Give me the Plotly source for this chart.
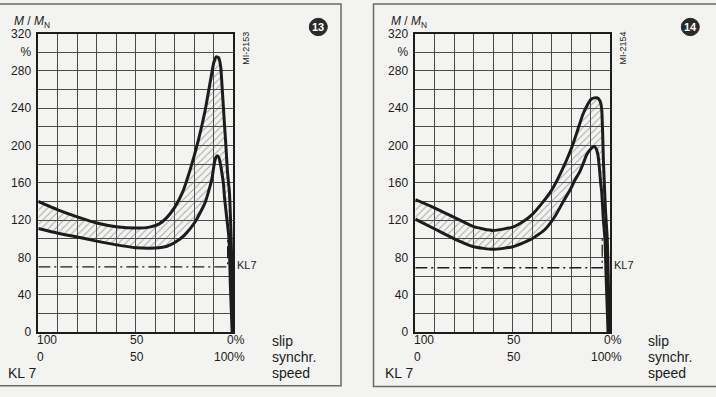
import plotly.graph_objects as go

# ---------------- data ----------------
# Panel 13: speed (% of synchronous) vs torque M/MN (%)
p13_upper_x = [0, 10, 20, 30, 40, 50, 57, 62, 66, 70, 74, 78, 82, 85.5, 88.5, 90, 91.2, 92.5, 93.5, 94.5, 95.4, 96.2, 97.0, 98.0, 98.9, 99.5, 100]
p13_upper_y = [140, 131, 123.5, 117, 113, 111.5, 112.5, 116, 123, 134, 150, 175, 205, 237, 272, 289, 295, 294, 285, 255, 225, 200, 172, 150, 100, 50, 0]
p13_lower_x = [0, 10, 20, 30, 40, 50, 57, 62, 66, 70, 75, 80.3, 85.5, 88.9, 90.2, 91.0, 91.8, 92.6, 93.4, 94.2, 94.9, 95.6, 96.5, 97.8, 98.5, 99.4]
p13_lower_y = [111, 106, 102, 97.5, 93.5, 90.5, 90, 90.5, 92, 96, 104, 117.7, 138.5, 163, 180, 187, 189, 187, 180, 170, 160, 142, 125, 100, 50, 0]
p13_kl7_x = [0, 97.1, 97.1]
p13_kl7_y = [70, 70, 100]

# Panel 14
p14_upper_x = [0, 10, 20, 30, 40, 50, 55, 60, 65, 70, 75, 80, 83, 86, 88.5, 90, 92, 93.5, 94.8, 95.7, 96.2, 96.6, 97.1, 97.7, 98.6, 99.2, 99.6]
p14_upper_y = [142, 133, 123, 113, 109, 112.5, 118, 126, 138, 152, 172, 196, 214, 233, 244, 249, 251, 251, 248, 240, 215, 185, 159, 130, 100, 50, 0]
p14_lower_x = [0, 10, 20, 30, 40, 50, 60, 66.6, 72, 76, 79.4, 82, 84.5, 86.5, 88, 90, 91.8, 92.8, 93.8, 94.6, 95.2, 95.7, 96.6, 97.4, 98.0, 99.0]
p14_lower_y = [121, 110.5, 100, 91.5, 88.7, 91.5, 100, 110, 125, 140, 152, 163, 172, 182, 190, 196, 199, 197, 190, 175, 160, 151, 120, 100, 60, 0]
p14_kl7_x = [0, 96.0, 96.0]
p14_kl7_y = [69, 69, 100]

y_tick_vals = [0, 40, 80, 120, 160, 200, 240, 280, 300, 320]
y_tick_text = ["0", "40", "80", "120", "160", "200", "240", "280", "%", "320"]
x_row1 = ["100", "50", "0%"]
x_row2 = ["0", "50", "100%"]
x_label_pos = [0, 50, 100]
side_labels = ["slip", "synchr.", "speed"]
panel_numbers = ["13", "14"]
drawing_ids = ["MI-2153", "MI-2154"]

# ---------------- figure ----------------
W, H = 716, 397
INK = "#1c1c1c"
GRID = "#4a4a4a"
BG = "#f3f3f1"
FONT = "Liberation Sans Narrow, Liberation Sans, Arial, sans-serif"
FONT2 = "Liberation Sans, Arial, sans-serif"

def px(xp):
    return xp / W

def py(yp):
    return 1 - yp / H

fig = go.Figure()

panels = [
    dict(ux=p13_upper_x, uy=p13_upper_y, lx=p13_lower_x, ly=p13_lower_y, kx=p13_kl7_x, ky=p13_kl7_y,
         xa="x", ya="y", dom=[px(38.3), px(233.3)]),
    dict(ux=p14_upper_x, uy=p14_upper_y, lx=p14_lower_x, ly=p14_lower_y, kx=p14_kl7_x, ky=p14_kl7_y,
         xa="x2", ya="y2", dom=[px(415.3), px(610.0)]),
]

ydom = [py(337), py(27.5)]

for i, p in enumerate(panels):
    poly_x = list(p["ux"]) + list(reversed(p["lx"]))
    poly_y = list(p["uy"]) + list(reversed(p["ly"]))
    fig.add_trace(go.Scatter(
        x=poly_x, y=poly_y, xaxis=p["xa"], yaxis=p["ya"], mode="none",
        fill="toself", fillcolor="rgba(0,0,0,0)",
        fillpattern=dict(shape="/", fgcolor="#5a5a5a", bgcolor="rgba(0,0,0,0)", size=5, solidity=0.2),
        hoverinfo="skip", showlegend=False))
    fig.add_trace(go.Scatter(
        x=p["kx"], y=p["ky"], xaxis=p["xa"], yaxis=p["ya"], mode="lines",
        line=dict(color=INK, width=1.3, dash="12px,4px,2px,4px"),
        showlegend=False, hoverinfo="skip"))
    for cx, cy in ((p["ux"], p["uy"]), (p["lx"], p["ly"])):
        fig.add_trace(go.Scatter(
            x=cx, y=cy, xaxis=p["xa"], yaxis=p["ya"], mode="lines",
            line=dict(color=INK, width=3, shape="spline", smoothing=0.5),
            showlegend=False, hoverinfo="skip"))

axis_common_x = dict(range=[0, 100], dtick=10, tick0=0, showgrid=True, gridcolor=GRID, gridwidth=1,
                     showticklabels=False, ticks="", zeroline=False, showline=True, linecolor=INK,
                     linewidth=1.5, mirror=True, fixedrange=True)
axis_common_y = dict(range=[0, 320], tickmode="array", tickvals=y_tick_vals, ticktext=y_tick_text,
                     showgrid=True, gridcolor=GRID, gridwidth=1, ticks="", zeroline=False,
                     showline=True, linecolor=INK, linewidth=1.5, mirror=True,
                     minor=dict(dtick=20, tick0=0, showgrid=True, gridcolor=GRID, gridwidth=1),
                     tickfont=dict(family=FONT, size=12, color=INK), ticklabelstandoff=3, fixedrange=True)

fig.update_layout(
    width=W, height=H, margin=dict(l=0, r=0, t=0, b=0), autosize=False,
    paper_bgcolor=BG, plot_bgcolor=BG,
    xaxis=dict(domain=panels[0]["dom"], anchor="y", **axis_common_x),
    yaxis=dict(domain=ydom, anchor="x", **axis_common_y),
    xaxis2=dict(domain=panels[1]["dom"], anchor="y2", **axis_common_x),
    yaxis2=dict(domain=ydom, anchor="x2", **axis_common_y),
)

ann = []
shapes = []
txt = dict(family=FONT, color=INK)

for i, p in enumerate(panels):
    xr = "x" if i == 0 else "x2"
    yr = "y" if i == 0 else "y2"
    # x tick labels (two rows)
    anchors = ["left", "center", "right"]
    shifts = [-3, 1, 14]
    for k, xv in enumerate(x_label_pos):
        ann.append(dict(x=xv, y=py(345.5), xref=xr, yref="paper", text=x_row1[k], showarrow=False,
                        xanchor=anchors[k], yanchor="middle", xshift=shifts[k],
                        font=dict(size=12, **txt)))
        ann.append(dict(x=xv, y=py(362.5), xref=xr, yref="paper", text=x_row2[k], showarrow=False,
                        xanchor=anchors[k], yanchor="middle", xshift=shifts[k],
                        font=dict(size=12, **txt)))
    # KL7 label
    ann.append(dict(x=100, y=72, xref=xr, yref=yr, text="KL7", showarrow=False,
                    xanchor="left", yanchor="middle", xshift=2, font=dict(size=11, **txt)))
    # y axis title
    x0 = 12 if i == 0 else 389
    ann.append(dict(x=px(x0), y=py(15.5), xref="paper", yref="paper",
                    text="<i>M</i> / <i>M</i><sub>N</sub>", showarrow=False,
                    xanchor="left", yanchor="middle", font=dict(size=12, **txt)))
    # drawing id (vertical)
    ann.append(dict(x=100, y=304, xref=xr, yref=yr, text=drawing_ids[i], showarrow=False,
                    textangle=-90, xanchor="left", yanchor="middle", xshift=6,
                    font=dict(size=9, **txt)))
    # slip / synchr. / speed
    sx = 270 if i == 0 else 646
    for lab, yy in zip(side_labels, [346, 363, 379.5]):
        ann.append(dict(x=px(sx), y=py(yy), xref="paper", yref="paper", text=lab, showarrow=False,
                        xanchor="left", yanchor="middle", font=dict(size=14, family=FONT2, color=INK)))
    # KL 7 bottom-left
    kx = 6 if i == 0 else 383
    ann.append(dict(x=px(kx), y=py(379.5), xref="paper", yref="paper", text="KL 7", showarrow=False,
                    xanchor="left", yanchor="middle", font=dict(size=14, family=FONT2, color=INK)))
    # circled number
    cx = 318.3 if i == 0 else 690.3
    cy = 20.7
    r = 9
    shapes.append(dict(type="circle", xref="paper", yref="paper",
                       x0=px(cx - r), x1=px(cx + r), y0=py(cy + r), y1=py(cy - r),
                       fillcolor="#2a2a2a", line=dict(color="#2a2a2a", width=1)))
    ann.append(dict(x=px(cx), y=py(cy), xref="paper", yref="paper", text="<b>" + panel_numbers[i] + "</b>",
                    showarrow=False, xanchor="center", yanchor="middle",
                    font=dict(size=11, family=FONT2, color="white")))

# panel frames
shapes.append(dict(type="rect", xref="paper", yref="paper", x0=px(-3), x1=px(341), y0=py(392.5), y1=py(-3),
                   line=dict(color="#6a6a6a", width=1.5), fillcolor="rgba(0,0,0,0)", layer="below"))
shapes.append(dict(type="rect", xref="paper", yref="paper", x0=px(373.5), x1=px(720), y0=py(393.5), y1=py(-3),
                   line=dict(color="#6a6a6a", width=1.5), fillcolor="rgba(0,0,0,0)", layer="below"))

fig.update_layout(annotations=ann, shapes=shapes)
fig.write_html("out.html",
               config={"displayModeBar": False},
               post_script="document.body.style.margin='0';document.body.style.padding='0';"
                           "document.body.style.overflow='hidden';"
                           "document.documentElement.style.background='" + BG + "';")
